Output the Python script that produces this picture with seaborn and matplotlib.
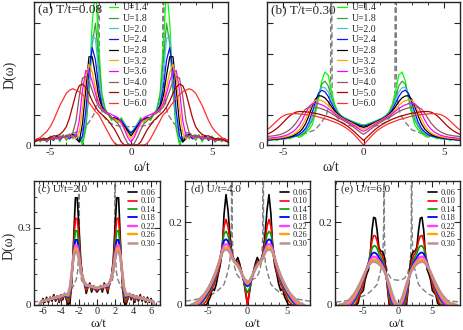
import numpy as np
import pandas as pd
import matplotlib
matplotlib.use("Agg")
import matplotlib.pyplot as plt
from matplotlib.ticker import MultipleLocator, FixedLocator, FixedFormatter
import seaborn as sns

sns.set_style("ticks")
plt.rcParams['font.family'] = ['Liberation Serif', 'DejaVu Serif']
plt.rcParams['axes.unicode_minus'] = False

# ---- data (half curves, omega >= 0; spectra are symmetric) ----
# bare density of states (grey dashed)
w_bare = [0, 0.5, 1.0, 1.4, 1.7, 1.85, 1.95, 2.0, 2.05, 2.15, 2.3, 2.6, 3.0, 3.5, 4.0, 4.5, 5.0, 6.0, 7.0, 8.0, 9.0]
d_bare = [0.06, 0.061, 0.065, 0.075, 0.095, 0.12, 0.17, 1.0, 0.2, 0.13, 0.1, 0.075, 0.05, 0.04, 0.032, 0.026, 0.022, 0.016, 0.012, 0.009, 0.007]

# panel (a), T/t = 0.08
w_a = [0.0, 0.2, 0.4, 0.6, 0.8, 1.0, 1.2, 1.4, 1.6, 1.8, 2.0, 2.2, 2.4, 2.6, 2.8, 3.0,
       3.2, 3.4, 3.6, 3.8, 4.0, 4.2, 4.4, 4.6, 4.8, 5.0, 5.2, 5.4, 5.6, 5.8, 6.0]
u_labels = ["U=1.4", "U=1.8", "U=2.0", "U=2.4", "U=2.8", "U=3.2", "U=3.6", "U=4.0", "U=5.0", "U=6.0"]
u_colors = ["#00ff00", "#3aa03a", "#3fc8d0", "#1010ff", "#000000", "#ffa500", "#ff00ff", "#8c5a5a", "#b00000", "#ff3030"]
d_a = [
    [.035, .05, .07, .09, .075, .095, .08, .10, .12, .17, .33, .52, .40, .18, .05, .00, .02, .04, .02, .03, .015, .035, .01, .03, .015, .03, .01, .025, .01, .02, .01],
    [.04, .05, .07, .085, .08, .09, .085, .10, .115, .16, .28, .40, .33, .17, .06, .01, .02, .035, .025, .03, .02, .03, .015, .03, .02, .025, .01, .02, .015, .02, .01],
    [.04, .055, .07, .08, .085, .09, .09, .10, .11, .14, .24, .35, .36, .20, .08, .02, .02, .035, .03, .025, .02, .03, .02, .025, .02, .02, .015, .02, .015, .02, .01],
    [.04, .05, .065, .08, .085, .09, .09, .10, .11, .13, .19, .28, .32, .24, .11, .03, .01, .03, .035, .02, .03, .025, .02, .03, .015, .025, .02, .02, .015, .02, .01],
    [.03, .045, .06, .075, .085, .085, .09, .10, .11, .125, .16, .23, .29, .29, .18, .07, .01, .02, .035, .03, .02, .03, .02, .025, .02, .02, .015, .02, .015, .015, .01],
    [.022, .035, .055, .07, .08, .085, .09, .10, .11, .12, .14, .19, .24, .265, .22, .12, .04, .02, .03, .03, .02, .03, .02, .025, .02, .02, .015, .02, .015, .015, .01],
    [.01, .025, .05, .075, .09, .095, .10, .105, .11, .12, .135, .17, .21, .24, .245, .18, .08, .03, .03, .03, .025, .03, .02, .025, .02, .02, .015, .02, .015, .015, .01],
    [.0, .005, .025, .05, .07, .08, .09, .10, .105, .115, .125, .15, .18, .21, .225, .22, .16, .08, .04, .03, .03, .025, .03, .02, .025, .02, .02, .015, .02, .015, .01],
    [.0, .0, .0, .01, .03, .05, .065, .08, .09, .10, .11, .125, .145, .17, .19, .20, .195, .17, .13, .09, .06, .045, .035, .03, .03, .025, .02, .02, .02, .015, .01],
    [.0, .0, .0, .0, .0, .005, .02, .04, .06, .08, .10, .11, .125, .14, .155, .165, .175, .18, .185, .18, .17, .15, .13, .105, .08, .06, .045, .035, .025, .02, .015],
]

# panel (b), T/t = 0.30
w_b = w_a
d_b = [
    [.066, .068, .072, .076, .08, .085, .09, .097, .11, .135, .18, .23, .24, .21, .15, .10, .065, .05, .04, .03, .025, .03, .025, .02, .025, .02, .02, .015, .02, .015, .015],
    [.065, .067, .071, .075, .079, .084, .089, .096, .108, .128, .16, .195, .21, .20, .16, .115, .08, .06, .045, .035, .03, .03, .025, .025, .02, .02, .02, .018, .018, .015, .015],
    [.064, .066, .07, .074, .078, .083, .088, .095, .105, .122, .15, .175, .188, .19, .165, .125, .09, .065, .05, .04, .033, .03, .027, .025, .022, .02, .02, .018, .018, .016, .015],
    [.062, .064, .068, .072, .077, .082, .087, .094, .103, .117, .138, .16, .175, .18, .17, .14, .105, .075, .055, .043, .035, .03, .028, .025, .023, .021, .02, .019, .018, .017, .016],
    [.058, .061, .066, .071, .076, .081, .086, .093, .101, .112, .127, .143, .155, .161, .162, .15, .125, .095, .07, .053, .042, .035, .03, .027, .025, .023, .021, .02, .019, .018, .017],
    [.052, .056, .062, .068, .074, .079, .085, .091, .098, .107, .118, .13, .14, .146, .148, .147, .135, .11, .085, .065, .05, .04, .034, .03, .027, .025, .023, .022, .021, .02, .019],
    [.045, .05, .057, .064, .071, .077, .083, .089, .095, .103, .112, .12, .127, .132, .136, .137, .135, .125, .105, .083, .065, .052, .043, .037, .032, .029, .027, .025, .024, .023, .022],
    [.035, .042, .05, .058, .066, .073, .079, .085, .091, .097, .104, .11, .115, .119, .122, .124, .125, .124, .118, .105, .088, .072, .06, .05, .043, .038, .034, .032, .03, .029, .028],
    [.015, .025, .035, .045, .054, .062, .069, .075, .08, .085, .089, .093, .096, .099, .102, .104, .106, .108, .109, .11, .11, .108, .103, .095, .085, .074, .063, .054, .046, .04, .035],
    [.0, .012, .024, .035, .045, .053, .06, .066, .071, .075, .079, .083, .086, .089, .092, .095, .097, .099, .1, .101, .102, .103, .103, .102, .1, .095, .088, .078, .068, .058, .05],
]

# bottom row, temperatures
t_labels = ["0.06", "0.10", "0.14", "0.18", "0.22", "0.26", "0.30"]
t_colors = ["#000000", "#ff0000", "#00a000", "#0000ff", "#ff40ff", "#ffa500", "#c09090"]
t_widths = [1.2, 1.2, 1.2, 1.3, 1.7, 1.7, 1.8]

# panel (c), U/t = 2.0
w_c = [0.0, 0.2, 0.4, 0.6, 0.8, 1.0, 1.2, 1.4, 1.6, 1.8, 2.0, 2.2, 2.4, 2.6, 2.8, 3.0,
       3.2, 3.4, 3.6, 3.8, 4.0, 4.2, 4.4, 4.6, 4.8, 5.0, 5.2, 5.4, 5.6, 5.8, 6.0, 6.2, 6.4]
d_c = [
    [.05, .06, .075, .05, .085, .07, .045, .09, .11, .17, .30, .415, .415, .25, .09, .01, .0, .02, .045, .02, .04, .01, .035, .015, .04, .015, .03, .01, .03, .01, .025, .005, .0],
    [.055, .06, .07, .06, .08, .07, .055, .085, .105, .16, .26, .335, .335, .23, .10, .03, .01, .025, .04, .025, .035, .015, .035, .02, .035, .02, .03, .015, .025, .015, .02, .01, .0],
    [.06, .062, .068, .065, .075, .07, .065, .085, .105, .15, .23, .287, .287, .21, .11, .04, .02, .03, .04, .03, .035, .02, .033, .022, .032, .022, .028, .018, .024, .016, .02, .012, .0],
    [.062, .064, .068, .068, .073, .072, .07, .085, .105, .145, .21, .252, .252, .20, .115, .05, .03, .035, .04, .032, .035, .025, .032, .025, .03, .022, .026, .02, .022, .018, .018, .013, .0],
    [.064, .066, .069, .07, .073, .074, .074, .087, .105, .14, .195, .23, .232, .195, .12, .06, .035, .038, .04, .035, .035, .028, .032, .027, .029, .024, .025, .021, .021, .018, .017, .014, .0],
    [.066, .067, .07, .072, .074, .076, .077, .088, .105, .135, .185, .215, .22, .19, .125, .065, .04, .04, .04, .037, .035, .031, .031, .028, .028, .025, .024, .022, .02, .018, .016, .014, .0],
    [.067, .068, .071, .073, .075, .077, .079, .089, .105, .132, .175, .205, .208, .185, .13, .07, .045, .042, .041, .038, .035, .033, .031, .029, .027, .025, .023, .021, .019, .017, .015, .013, .0],
]

# panel (d), U/t = 4.0
w_d = [0.0, 0.25, 0.5, 0.75, 1.0, 1.25, 1.5, 1.75, 2.0, 2.25, 2.5, 2.75, 3.0, 3.25, 3.5,
       3.75, 4.0, 4.25, 4.5, 4.75, 5.0, 5.25, 5.5, 5.75, 6.0, 6.25, 6.5, 6.75, 7.0, 7.25]
d_d = [
    [.0, .03, .06, .08, .10, .115, .105, .11, .125, .17, .23, .267, .22, .13, .095, .075, .05, .035, .04, .02, .01, .0, .0, .0, .0, .0, .0, .0, .0, .0],
    [.0, .035, .06, .08, .095, .105, .105, .11, .125, .155, .19, .207, .19, .14, .10, .08, .065, .05, .04, .03, .02, .01, .005, .0, .0, .0, .0, .0, .0, .0],
    [.03, .04, .06, .078, .092, .10, .105, .11, .122, .145, .17, .178, .172, .14, .11, .088, .072, .058, .047, .037, .028, .02, .013, .007, .002, .0, .0, .0, .0, .0],
    [.045, .05, .062, .076, .088, .097, .103, .109, .12, .138, .155, .159, .156, .137, .113, .093, .077, .063, .052, .042, .033, .025, .018, .011, .006, .002, .0, .0, .0, .0],
    [.05, .055, .064, .076, .087, .096, .102, .108, .118, .133, .145, .147, .145, .132, .113, .096, .08, .067, .056, .046, .037, .029, .022, .015, .009, .004, .001, .0, .0, .0],
    [.053, .057, .066, .077, .087, .095, .101, .107, .116, .129, .138, .139, .138, .128, .112, .097, .083, .07, .059, .049, .04, .032, .025, .019, .014, .009, .005, .002, .0, .0],
    [.055, .059, .067, .077, .087, .095, .10, .106, .114, .126, .133, .134, .133, .125, .111, .097, .084, .072, .061, .051, .042, .034, .027, .022, .017, .012, .008, .004, .002, .0],
]

# panel (e), U/t = 6.0
w_e = [0.0, 0.25, 0.5, 0.75, 1.0, 1.25, 1.5, 1.75, 2.0, 2.25, 2.5, 2.75, 3.0, 3.25, 3.5,
       3.75, 4.0, 4.25, 4.5, 4.75, 5.0, 5.25, 5.5, 5.75, 6.0, 6.25, 6.5, 6.75, 7.0, 7.25,
       7.5, 7.75, 8.0, 8.25, 8.5]
d_e = [
    [0, 0, 0, 0, 0, 0, .04, .09, .12, .13, .13, .14, .18, .21, .212, .18, .12, .085, .075, .06, .035, .03, .025, .005, 0, 0, 0, 0, 0, 0, 0, 0, 0, 0, 0],
    [0, 0, 0, 0, 0, .01, .045, .08, .105, .12, .125, .135, .155, .167, .168, .155, .125, .10, .085, .07, .05, .035, .025, .015, .005, 0, 0, 0, 0, 0, 0, 0, 0, 0, 0],
    [0, 0, 0, 0, .005, .025, .05, .075, .095, .108, .117, .125, .137, .143, .143, .137, .12, .103, .09, .076, .06, .046, .034, .024, .015, .008, .003, 0, 0, 0, 0, 0, 0, 0, 0],
    [0, 0, 0, .005, .015, .035, .055, .075, .09, .10, .108, .115, .122, .126, .127, .124, .113, .10, .089, .077, .064, .051, .04, .03, .021, .014, .008, .003, 0, 0, 0, 0, 0, 0, 0],
    [0, 0, .002, .01, .025, .042, .058, .074, .086, .095, .102, .108, .113, .116, .117, .115, .108, .098, .088, .078, .066, .055, .044, .035, .026, .018, .012, .006, .002, 0, 0, 0, 0, 0, 0],
    [0, .002, .008, .018, .032, .047, .061, .074, .084, .092, .098, .103, .107, .109, .11, .108, .103, .095, .087, .078, .068, .058, .048, .039, .031, .024, .018, .013, .009, .006, .003, .001, 0, 0, 0],
    [0, .005, .013, .024, .037, .051, .063, .074, .083, .09, .095, .099, .102, .104, .105, .104, .10, .094, .087, .079, .07, .061, .052, .044, .036, .029, .023, .018, .013, .009, .006, .004, .002, .001, 0],
]


def mirror(w, d):
    w = np.asarray(w, dtype=float)
    d = np.asarray(d, dtype=float)
    return np.concatenate([-w[:0:-1], w]), np.concatenate([d[:0:-1], d])


def draw_panel(ax, w, curves, labels, colors, widths):
    bw, bd = mirror(w_bare, d_bare)
    sns.lineplot(x=bw, y=bd, ax=ax, color="#808080", lw=1.0,
                 linestyle=(0, (4, 2)), estimator=None, sort=False, label="_bare")
    for d, lab, col, lw in zip(curves, labels, colors, widths):
        x, y = mirror(w, d)
        df = pd.DataFrame({"w": x, "D": y})
        sns.lineplot(data=df, x="w", y="D", ax=ax, color=col, lw=lw,
                     estimator=None, sort=False, label=lab)
    ax.set_xlabel("")
    ax.set_ylabel("")


def style_axes(ax, xlim, ylim, xmaj, xmin, yticks, ylabels, yminor):
    ax.set_xlim(*xlim)
    ax.set_ylim(*ylim)
    ax.xaxis.set_major_locator(MultipleLocator(xmaj))
    ax.xaxis.set_minor_locator(MultipleLocator(xmin))
    ax.yaxis.set_major_locator(FixedLocator(yticks))
    ax.yaxis.set_major_formatter(FixedFormatter(ylabels))
    if yminor:
        ax.yaxis.set_minor_locator(MultipleLocator(yminor))
    ax.tick_params(which="both", direction="in", top=True, right=True, labelsize=8, pad=2)
    ax.tick_params(which="major", length=4, width=0.8)
    ax.tick_params(which="minor", length=2, width=0.6)
    for s in ax.spines.values():
        s.set_linewidth(1.0)
        s.set_visible(True)


fig = plt.figure(figsize=(4.63, 3.30), dpi=100)
W, H = 463.0, 330.0


def px_axes(x0, x1, y0, y1):
    return fig.add_axes([x0 / W, 1 - y1 / H, (x1 - x0) / W, (y1 - y0) / H])


ax_a = px_axes(34, 228, 2, 145)
ax_b = px_axes(267, 460, 2, 145)
ax_c = px_axes(34, 160, 181, 305)
ax_d = px_axes(185, 310, 181, 305)
ax_e = px_axes(335, 460, 181, 305)

top_w = [0.9] * 10
draw_panel(ax_a, w_a, d_a, u_labels, u_colors, top_w)
draw_panel(ax_b, w_b, d_b, u_labels, u_colors, top_w)
draw_panel(ax_c, w_c, d_c, t_labels, t_colors, t_widths)
draw_panel(ax_d, w_d, d_d, t_labels, t_colors, t_widths)
draw_panel(ax_e, w_e, d_e, t_labels, t_colors, t_widths)

for ax in (ax_a, ax_b):
    style_axes(ax, (-6, 6), (0, 0.47), 5, 1, [0, 0.1, 0.2, 0.3, 0.4], ["0", "", "", "", ""], None)
style_axes(ax_c, (-7, 7), (0, 0.48), 2, 0.5, [0, 0.3], ["0", "0.3"], 0.06)
style_axes(ax_d, (-8, 8), (0, 0.3), 5, 1, [0, 0.2], ["0", "0.2"], 0.04)
style_axes(ax_e, (-9.1, 9), (0, 0.3), 5, 1, [0, 0.2], ["0", "0.2"], 0.04)
for ax in (ax_c, ax_d, ax_e):
    ax.tick_params(axis="x", labelsize=7.5, pad=1.5)

# panel titles
ax_a.text(0.02, 0.985, "(a) T/t=0.08", transform=ax_a.transAxes, fontsize=9.5, va="top", ha="left")
ax_b.text(0.02, 0.985, "(b) T/t=0.30", transform=ax_b.transAxes, fontsize=9.5, va="top", ha="left")
ax_c.text(0.03, 0.975, "(c) U/t=2.0", transform=ax_c.transAxes, fontsize=8, va="top", ha="left")
ax_d.text(0.05, 0.975, "(d) U/t=4.0", transform=ax_d.transAxes, fontsize=8, va="top", ha="left")
ax_e.text(0.05, 0.975, "(e) U/t=6.0", transform=ax_e.transAxes, fontsize=8, va="top", ha="left")

# legends
leg_top = dict(loc="upper left", frameon=False, fontsize=7, labelspacing=0.17,
               handlelength=1.0, handletextpad=0.45, borderpad=0.0, borderaxespad=0.0)
ax_a.legend(bbox_to_anchor=(0.385, 0.99), **leg_top)
ax_b.legend(bbox_to_anchor=(0.365, 0.99), **leg_top)
leg_bot = dict(loc="upper left", frameon=False, fontsize=6, labelspacing=0.05,
               handlelength=1.1, handletextpad=0.4, borderpad=0.0, borderaxespad=0.0)
ax_c.legend(bbox_to_anchor=(0.745, 0.935), **leg_bot)
ax_d.legend(bbox_to_anchor=(0.76, 0.935), **leg_bot)
ax_e.legend(bbox_to_anchor=(0.745, 0.935), **leg_bot)

# axis labels
ax_a.set_ylabel("D(ω)", fontsize=10)
ax_a.yaxis.set_label_coords(-0.09, 0.49)
ax_c.set_ylabel("D(ω)", fontsize=10)
ax_c.yaxis.set_label_coords(-0.15, 0.48)
ax_a.set_xlabel("ω/t", fontsize=10)
ax_a.xaxis.set_label_coords(0.557, -0.11)
ax_b.set_xlabel("ω/t", fontsize=10)
ax_b.xaxis.set_label_coords(0.33, -0.11)
for ax, xc in ((ax_c, 0.51), (ax_d, 0.54), (ax_e, 0.49)):
    ax.set_xlabel("ω/t", fontsize=9.5)
    ax.xaxis.set_label_coords(xc, -0.105)

fig.savefig("out.png", dpi=100)
